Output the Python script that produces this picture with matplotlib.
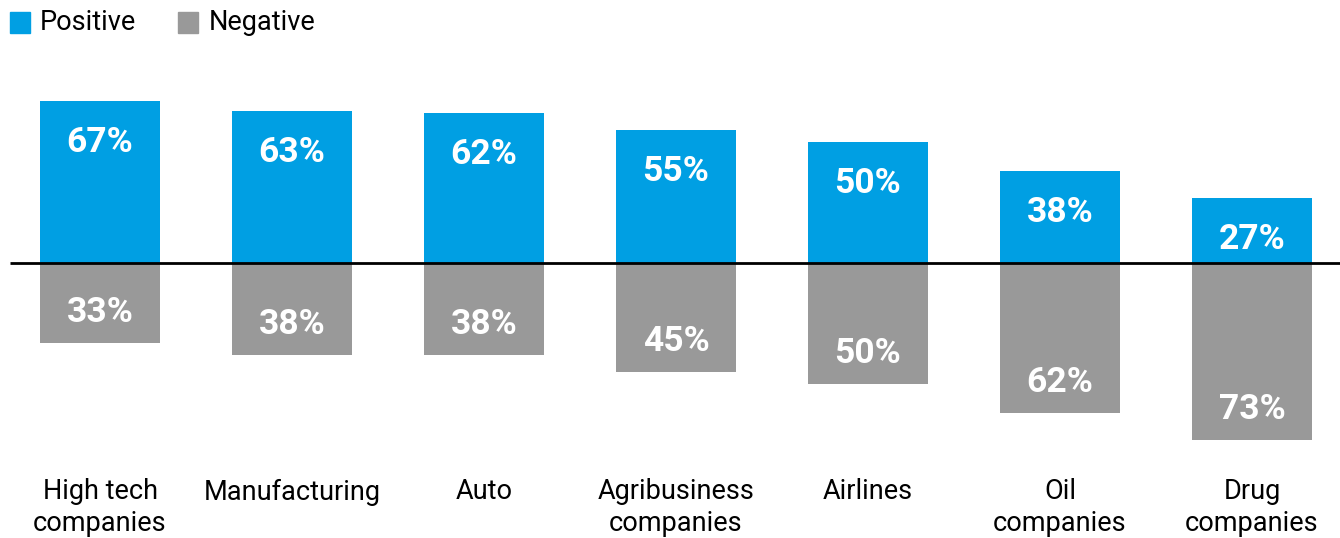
import matplotlib
matplotlib.use("Agg")
import matplotlib.pyplot as plt
from matplotlib.patches import Rectangle

plt.rcParams["font.family"] = ["Roboto", "DejaVu Sans"]

categories = ["High tech\ncompanies", "Manufacturing", "Auto", "Agribusiness\ncompanies",
              "Airlines", "Oil\ncompanies", "Drug\ncompanies"]
positive = [67, 63, 62, 55, 50, 38, 27]
negative = [33, 38, 38, 45, 50, 62, 73]

BLUE = "#009fe3"
GREY = "#999999"

fig = plt.figure(figsize=(13.4, 5.38), dpi=100)
ax = fig.add_axes([0, 0, 1, 1])
ax.set_xlim(-100 / 192, 1240 / 192)
ax.set_ylim(-113.6, 108.7)
ax.axis("off")

x = list(range(len(categories)))
width = 0.62
ax.bar(x, positive, width=width, color=BLUE, zorder=2)
ax.bar(x, [-v for v in negative], width=width, color=GREY, zorder=2)

# baseline
ax.plot([-90 / 192, 6.46], [0, 0], color="black", lw=2, zorder=3, solid_capstyle="butt")

for xi, p, n, cat in zip(x, positive, negative, categories):
    ax.annotate(f"{p}%", (xi, p), xytext=(0, -30), textcoords="offset points",
                ha="center", va="center", color="white", fontsize=25.5, fontweight="bold")
    ax.annotate(f"{n}%", (xi, -n), xytext=(0, 22), textcoords="offset points",
                ha="center", va="center", color="white", fontsize=25.5, fontweight="bold")
    ax.text(xi, -89, cat, ha="center", va="top", fontsize=19.5, color="black",
            linespacing=1.22)

# legend
fig.patches.append(Rectangle((10 / 1340, 1 - 33 / 538), 20 / 1340, 21 / 538,
                             transform=fig.transFigure, color=BLUE))
fig.text(40 / 1340, 1 - 23 / 538, "Positive", fontsize=19.5, va="center", ha="left")
fig.patches.append(Rectangle((178 / 1340, 1 - 33 / 538), 20 / 1340, 21 / 538,
                             transform=fig.transFigure, color=GREY))
fig.text(209 / 1340, 1 - 23 / 538, "Negative", fontsize=19.5, va="center", ha="left")

fig.savefig("out.png", dpi=100)
